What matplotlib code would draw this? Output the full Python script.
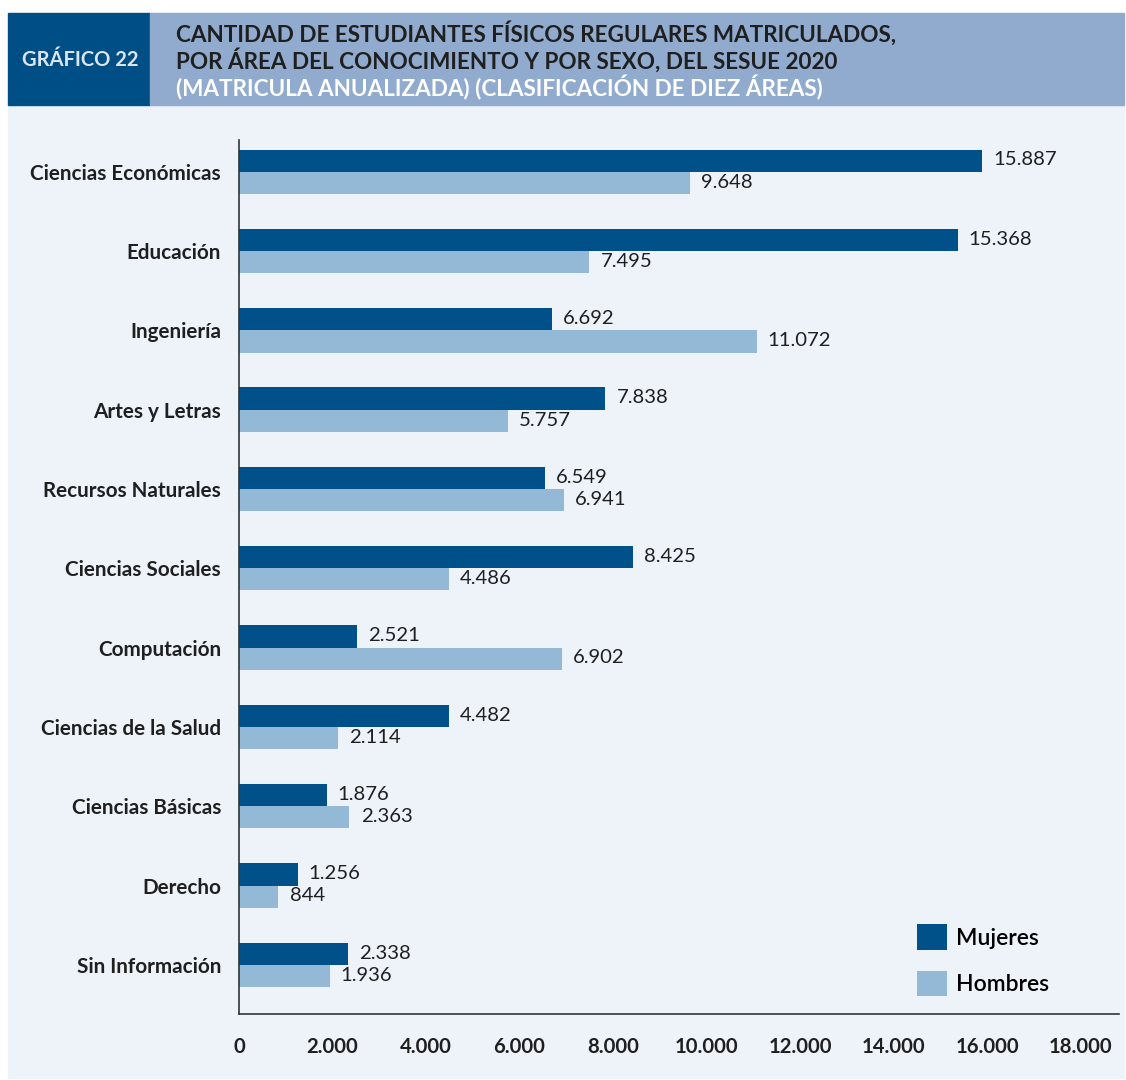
import matplotlib
matplotlib.use("Agg")
import matplotlib.pyplot as plt
from matplotlib.patches import Rectangle
import numpy as np

categories = ["Ciencias Económicas", "Educación", "Ingeniería", "Artes y Letras",
              "Recursos Naturales", "Ciencias Sociales", "Computación",
              "Ciencias de la Salud", "Ciencias Básicas", "Derecho", "Sin Información"]
mujeres = [15887, 15368, 6692, 7838, 6549, 8425, 2521, 4482, 1876, 1256, 2338]
hombres = [9648, 7495, 11072, 5757, 6941, 4486, 6902, 2114, 2363, 844, 1936]
xticks = [0, 2000, 4000, 6000, 8000, 10000, 12000, 14000, 16000, 18000]
series_names = ["Mujeres", "Hombres"]

DARK = "#00518A"
LIGHT = "#94B9D6"
PANEL = "#EEF3FA"
TXT = "#1F1F1F"

plt.rcParams['font.family'] = ['Lato', 'DejaVu Sans']

W, H = 1126, 1080
fig = plt.figure(figsize=(W / 100, H / 100), dpi=100)
fig.patch.set_facecolor("white")

def px(x0, y0, x1, y1):
    return (x0 / W, 1 - y1 / H, (x1 - x0) / W, (y1 - y0) / H)

# panel and header
for (x0, y0, x1, y1), c in [((8, 105, 1124, 1078), PANEL),
                            ((8, 13, 150, 105), "#004E86"),
                            ((150, 13, 1124, 105), "#91ABCE")]:
    x, y, w, h = px(x0, y0, x1, y1)
    fig.patches.append(Rectangle((x, y), w, h, transform=fig.transFigure, color=c, zorder=-10))

fig.text(80 / W, 1 - 60 / H, "GRÁFICO 22", color="#DCE6F2", fontsize=14.5, fontweight="bold",
         ha="center", va="center")
fig.text(176 / W, 1 - 33 / H, "CANTIDAD DE ESTUDIANTES FÍSICOS REGULARES MATRICULADOS,",
         color=TXT, fontsize=16.2, fontweight="bold", ha="left", va="center")
fig.text(176 / W, 1 - 60 / H, "POR ÁREA DEL CONOCIMIENTO Y POR SEXO, DEL SESUE 2020",
         color=TXT, fontsize=16.2, fontweight="bold", ha="left", va="center")
fig.text(176 / W, 1 - 88 / H, "(MATRICULA ANUALIZADA) (CLASIFICACIÓN DE DIEZ ÁREAS)",
         color="white", fontsize=16.2, fontweight="bold", ha="left", va="center")

ax = fig.add_axes([239 / W, 1 - 1014 / H, (1119 - 239) / W, (1014 - 140) / H])
ax.set_facecolor("none")

pos = np.arange(len(categories))
bh = 0.28
b1 = ax.barh(pos - bh / 2, mujeres, height=bh, color=DARK, label=series_names[0])
b2 = ax.barh(pos + bh / 2, hombres, height=bh, color=LIGHT, label=series_names[1])

def fmt(v):
    return f"{v:,}".replace(",", ".")

for bars, vals in ((b1, mujeres), (b2, hombres)):
    for r, v in zip(bars, vals):
        ax.annotate(fmt(v), (v, r.get_y() + r.get_height() / 2), xytext=(8, 0.5),
                    textcoords="offset points", ha="left", va="center",
                    fontsize=14.6, color=TXT)

ax.set_xlim(0, 18820)
ax.set_ylim(len(categories) - 1 + 0.62, -0.4)
ax.set_yticks(pos)
ax.set_yticklabels(categories, fontsize=14.9, fontweight="bold", color=TXT)
ax.set_xticks(xticks)
ax.set_xticklabels([fmt(t) for t in xticks], fontsize=14.6, fontweight="bold", color=TXT)
ax.tick_params(axis="both", length=0)
ax.tick_params(axis="x", pad=16.5)
ax.tick_params(axis="y", pad=13)
for s in ["top", "right"]:
    ax.spines[s].set_visible(False)
for s in ["left", "bottom"]:
    ax.spines[s].set_color("#333333")
    ax.spines[s].set_linewidth(1.2)

ax.legend(handles=[b1, b2], loc="upper left", bbox_to_anchor=(906 / W, 1 - 913 / H),
          bbox_transform=fig.transFigure, frameon=False,
          handlelength=1.28, handleheight=1.33, labelspacing=0.9, handletextpad=0.4,
          borderpad=0, prop={"size": 16.5, "weight": "semibold"})

fig.savefig("out.png", dpi=100)
